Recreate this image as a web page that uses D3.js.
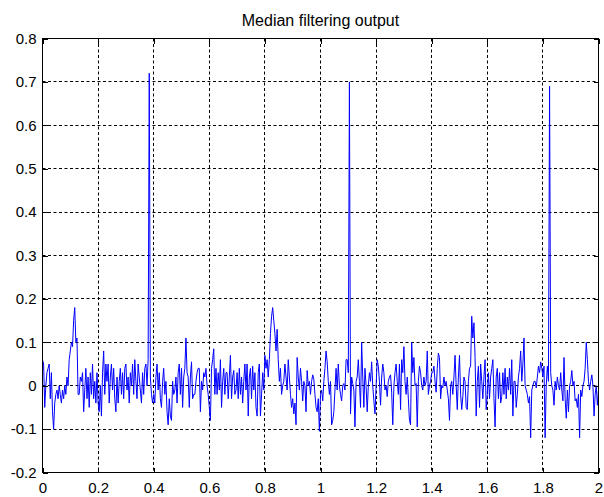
<!DOCTYPE html>
<html>
<head>
<meta charset="utf-8">
<script src="https://cdn.jsdelivr.net/npm/d3@7/dist/d3.min.js"></script>
<style>
  body { margin: 0; background: #fff; }
  svg { display: block; }
  text { font-family: "Liberation Sans", Arial, Helvetica, sans-serif; fill: #000; }
</style>
</head>
<body>
<svg id="chart" width="604" height="497"></svg>
<script>
// Median-filtered ECG trace, 2 s long, one sample every 4 ms
const titleText = "Median filtering output";
const sampleInterval = 0.004;

const signal = [
  // 0.0 – 0.1 s
  0.06, 0.05, -0.05, 0.00, 0.03, 0.04, 0.05, -0.03, 0.03, -0.06, -0.10, -0.04, -0.02, -0.01, -0.03, 0.00, -0.02, -0.04, -0.01, -0.03, 0.00, -0.02, 0.02, 0.00, 0.06,
  // 0.1 – 0.2 s
  0.08, 0.10, 0.09, 0.15, 0.18, 0.10, 0.11, -0.02, -0.02, 0.02, 0.01, 0.03, -0.06, -0.01, 0.04, -0.03, 0.02, -0.05, 0.03, -0.02, 0.05, -0.03, 0.01, -0.04, 0.03,
  // 0.2 – 0.3 s
  -0.04, -0.06, 0.00, -0.07, 0.03, 0.08, -0.02, 0.05, 0.01, 0.05, -0.04, 0.02, 0.05, -0.01, 0.04, -0.03, -0.06, 0.02, -0.04, 0.01, 0.04, -0.02, 0.03, -0.03, 0.04,
  // 0.3 – 0.4 s
  0.05, -0.01, 0.02, -0.04, 0.03, 0.00, 0.05, -0.02, 0.06, 0.01, -0.03, 0.05, 0.02, -0.01, -0.04, 0.03, -0.02, 0.04, 0.05, 0.00, 0.06, 0.72, 0.02, -0.02, -0.04,
  // 0.4 – 0.5 s
  -0.02, -0.04, 0.02, 0.05, -0.01, 0.03, -0.03, -0.05, 0.01, 0.04, -0.02, 0.01, -0.06, -0.09, -0.03, -0.07, -0.08, 0.01, -0.02, -0.01, 0.02, -0.04, 0.03, 0.05, -0.02,
  // 0.5 – 0.6 s
  0.04, -0.05, 0.02, 0.04, 0.11, 0.03, 0.02, -0.05, 0.02, 0.055, -0.03, -0.02, -0.02, 0.01, 0.03, 0.04, 0.04, -0.06, 0.01, -0.01, 0.03, 0.02, 0.04, 0.00, -0.02,
  // 0.6 – 0.7 s
  -0.05, -0.08, 0.04, 0.06, 0.085, -0.02, 0.04, -0.02, 0.03, -0.01, 0.06, -0.05, 0.01, 0.04, -0.02, 0.03, 0.03, -0.03, 0.02, 0.07, -0.03, 0.02, 0.035, -0.02, -0.01,
  // 0.7 – 0.8 s
  0.03, -0.03, 0.04, -0.02, 0.02, -0.04, 0.01, 0.05, -0.01, 0.05, -0.07, 0.02, 0.04, -0.03, 0.045, -0.01, 0.03, -0.05, -0.07, 0.03, 0.05, -0.07, -0.02, 0.03, -0.01,
  // 0.8 – 0.9 s
  0.07, 0.04, 0.06, 0.02, 0.06, 0.12, 0.16, 0.18, 0.15, 0.12, 0.08, 0.13, 0.06, 0.01, 0.04, -0.02, 0.00, 0.01, 0.05, 0.02, -0.01, 0.06, 0.02, -0.02, -0.05,
  // 0.9 – 1.0 s
  -0.03, -0.065, -0.04, -0.09, 0.065, 0.02, -0.01, 0.04, 0.01, -0.035, 0.01, 0.00, -0.06, 0.035, 0.00, 0.01, -0.02, 0.01, 0.025, 0.015, -0.02, -0.05, -0.06, -0.03, -0.105,
  // 1.0 – 1.1 s
  -0.02, -0.01, -0.035, 0.01, 0.04, 0.08, 0.055, 0.01, -0.02, 0.01, -0.09, -0.08, -0.06, -0.01, 0.04, -0.01, 0.05, 0.00, -0.02, -0.035, 0.00, 0.005, -0.01, 0.06, 0.06,
  // 1.1 – 1.2 s
  0.03, 0.70, -0.065, 0.02, 0.005, -0.01, -0.095, 0.01, 0.02, 0.06, 0.01, -0.05, 0.10, 0.02, -0.05, 0.04, 0.00, -0.06, 0.00, 0.03, 0.01, 0.055, 0.00, -0.035, -0.065,
  // 1.2 – 1.3 s
  0.00, 0.06, 0.045, 0.01, -0.045, 0.02, 0.05, 0.03, -0.01, 0.00, -0.025, 0.01, 0.02, 0.025, -0.015, -0.09, 0.00, 0.03, 0.05, 0.01, -0.02, 0.05, -0.055, 0.06, 0.03,
  // 1.3 – 1.4 s
  0.09, 0.01, -0.02, 0.02, -0.03, -0.08, -0.09, 0.10, 0.03, 0.065, 0.00, 0.005, -0.095, 0.01, 0.045, 0.03, 0.00, -0.01, 0.02, 0.00, 0.01, 0.08, -0.02, 0.00, 0.01,
  // 1.4 – 1.5 s
  0.03, 0.03, 0.045, 0.01, -0.015, 0.04, 0.075, 0.065, -0.03, 0.00, -0.005, 0.02, 0.00, 0.01, -0.01, -0.03, -0.08, 0.00, 0.01, -0.02, 0.02, 0.07, 0.00, -0.055, 0.02,
  // 1.5 – 1.6 s
  0.07, -0.02, -0.055, -0.025, 0.02, 0.01, -0.05, -0.055, 0.01, 0.04, 0.045, 0.16, 0.11, 0.145, 0.065, -0.07, 0.01, 0.045, -0.05, 0.05, 0.01, -0.03, 0.02, 0.06, -0.055,
  // 1.6 – 1.7 s
  -0.02, 0.03, -0.03, 0.02, 0.04, 0.06, -0.03, -0.095, 0.02, 0.04, -0.03, 0.03, -0.04, -0.025, 0.03, -0.02, 0.04, -0.03, 0.02, -0.01, 0.04, -0.02, 0.06, -0.07, 0.01,
  // 1.7 – 1.8 s
  0.01, -0.05, -0.02, 0.02, 0.04, 0.08, 0.01, 0.05, 0.11, 0.00, -0.01, -0.02, -0.04, -0.025, -0.12, -0.01, 0.00, 0.01, 0.01, -0.005, 0.02, 0.045, 0.03, 0.055, 0.04,
  // 1.8 – 1.9 s
  0.02, 0.045, -0.12, 0.00, 0.045, 0.01, 0.69, 0.03, 0.00, -0.01, -0.045, 0.01, -0.01, 0.02, 0.00, -0.01, 0.03, -0.01, -0.035, 0.065, -0.03, -0.075, -0.01, -0.06, 0.00,
  // 1.9 – 2.0 s
  0.01, 0.035, 0.00, 0.01, -0.035, -0.03, -0.05, -0.02, -0.12, -0.01, -0.025, 0.00, 0.01, 0.04, 0.10, 0.06, 0.01, -0.01, 0.01, 0.025, 0.00, -0.07, -0.02, 0.00, -0.045,
  -0.01
];

const xTicks = [0, 0.2, 0.4, 0.6, 0.8, 1, 1.2, 1.4, 1.6, 1.8, 2];
const xTickLabels = ["0", "0.2", "0.4", "0.6", "0.8", "1", "1.2", "1.4", "1.6", "1.8", "2"];
const yTicks = [-0.2, -0.1, 0, 0.1, 0.2, 0.3, 0.4, 0.5, 0.6, 0.7, 0.8];
const yTickLabels = ["-0.2", "-0.1", "0", "0.1", "0.2", "0.3", "0.4", "0.5", "0.6", "0.7", "0.8"];

const svg = d3.select("#chart");
const W = 604, H = 497;
const plot = { left: 42.5, right: 598.5, top: 38.5, bottom: 472.5 };
const tickFont = 15;

const x = d3.scaleLinear().domain([0, 2]).range([plot.left, plot.right]);
const y = d3.scaleLinear().domain([-0.2, 0.8]).range([plot.bottom, plot.top]);
const snap = v => Math.round(v - 0.5) + 0.5;

svg.append("rect").attr("width", W).attr("height", H).attr("fill", "#fff");

// dotted grid
const grid = svg.append("g").attr("stroke", "#000").attr("stroke-width", 1)
  .attr("stroke-dasharray", "3,2.5").attr("fill", "none");
grid.selectAll("line.vx").data(xTicks.slice(1, -1)).join("line")
  .attr("x1", d => snap(x(d))).attr("x2", d => snap(x(d)))
  .attr("y1", plot.top).attr("y2", plot.bottom);
grid.selectAll("line.hy").data(yTicks.slice(1, -1)).join("line")
  .attr("y1", d => snap(y(d))).attr("y2", d => snap(y(d)))
  .attr("x1", plot.left).attr("x2", plot.right);

// signal trace
const line = d3.line()
  .x((d, i) => x(i * sampleInterval))
  .y(d => y(d));
svg.append("path").datum(signal)
  .attr("d", line)
  .attr("fill", "none")
  .attr("stroke", "#0000ff")
  .attr("stroke-width", 1)
  .attr("stroke-linejoin", "round");

// axes box with inward ticks
const tickLen = 5;
const axisG = svg.append("g").attr("stroke", "#000").attr("stroke-width", 1).attr("fill", "none")
  .attr("shape-rendering", "crispEdges");
axisG.append("rect")
  .attr("x", plot.left).attr("y", plot.top)
  .attr("width", plot.right - plot.left).attr("height", plot.bottom - plot.top);

const xAxisBottom = d3.axisBottom(x).tickValues(xTicks).tickSizeInner(-tickLen).tickSizeOuter(0)
  .tickFormat((d, i) => xTickLabels[i]).tickPadding(10);
const xAxisTop = d3.axisTop(x).tickValues(xTicks).tickSizeInner(-tickLen).tickSizeOuter(0).tickFormat("");
const yAxisLeft = d3.axisLeft(y).tickValues(yTicks).tickSizeInner(-tickLen).tickSizeOuter(0)
  .tickFormat((d, i) => yTickLabels[i]).tickPadding(6);
const yAxisRight = d3.axisRight(y).tickValues(yTicks).tickSizeInner(-tickLen).tickSizeOuter(0).tickFormat("");

function styleAxis(g) {
  g.select(".domain").remove();
  g.selectAll(".tick line").attr("stroke", "#000").attr("shape-rendering", "crispEdges");
  g.selectAll(".tick text")
    .attr("font-family", "\"Liberation Sans\", Arial, Helvetica, sans-serif")
    .attr("font-size", tickFont).attr("fill", "#000");
}

svg.append("g").attr("transform", `translate(0,${plot.bottom})`).call(xAxisBottom).call(styleAxis);
svg.append("g").attr("transform", `translate(0,${plot.top})`).call(xAxisTop).call(styleAxis);
svg.append("g").attr("transform", `translate(${plot.left},0)`).call(yAxisLeft).call(styleAxis);
svg.append("g").attr("transform", `translate(${plot.right},0)`).call(yAxisRight).call(styleAxis);

// title
svg.append("text")
  .attr("x", (plot.left + plot.right) / 2)
  .attr("y", 25.5)
  .attr("text-anchor", "middle")
  .attr("font-size", 16)
  .text(titleText);
</script>
</body>
</html>
